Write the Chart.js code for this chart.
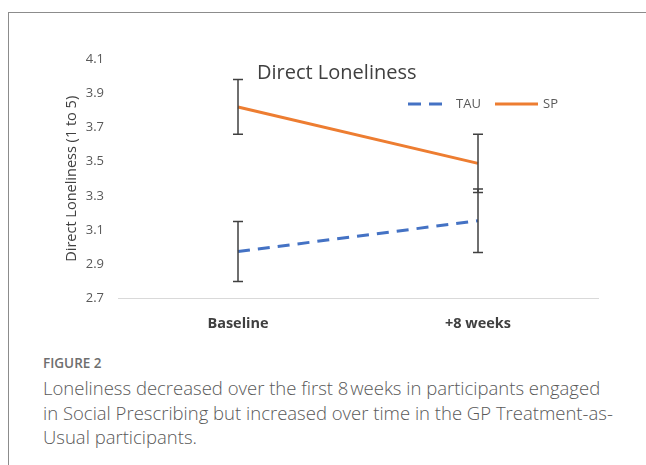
<!DOCTYPE html>
<html>
<head>
<meta charset="utf-8">
<script src="https://cdn.jsdelivr.net/npm/chart.js@4"></script>
<style>
    html, body { margin: 0; padding: 0; background: #fff; }
    body { width: 646px; height: 465px; position: relative; overflow: hidden; }
    .frame { position: absolute; left: 8px; top: 12px; right: -2px; bottom: -2px; border-top: 1px solid #8c8c8c; border-left: 1px solid #8c8c8c; }
    #wrap { position: absolute; left: 0; top: 0; width: 646px; height: 342px; }
    .fig { position: absolute; left: 43px; top: 353px; font-family: "Open Sans", sans-serif; font-weight: 600; font-size: 13.5px; line-height: 20px; color: #6e6e6e; }
    .cap { position: absolute; left: 43px; top: 376px; font-family: "Open Sans", sans-serif; font-weight: 300; font-size: 18.5px; line-height: 24.5px; color: #595959; white-space: nowrap; }
</style>
</head>
<body>
<div class="frame"></div>
<div id="wrap"><canvas id="lonelinessChart"></canvas></div>
<div class="fig">FIGURE 2</div>
<div class="cap">Loneliness decreased over the first 8&#8202;weeks in participants engaged<br>in Social Prescribing but increased over time in the GP Treatment-as-<br>Usual participants.</div>
<script>
// data
var categories = ['Baseline', '+8 weeks'];
var tauMeans = [2.975, 3.155];
var tauErrors = [0.175, 0.185];
var spMeans = [3.82, 3.49];
var spErrors = [0.16, 0.17];
var yTicks = [2.7, 2.9, 3.1, 3.3, 3.5, 3.7, 3.9, 4.1];

document.addEventListener('DOMContentLoaded', function() {
    // error bars, title and legend drawn on top of the chart
    var extrasPlugin = {
        id: 'extras',
        afterDatasetsDraw: function(chart) {
            var ctx = chart.ctx;
            var x = chart.scales.x;
            var y = chart.scales.y;
            var area = chart.chartArea;
            ctx.save();
            ctx.strokeStyle = '#404040';
            ctx.lineWidth = 1.5;
            chart.data.datasets.forEach(function(ds) {
                ds.data.forEach(function(v, i) {
                    var px = x.getPixelForValue(i);
                    var top = y.getPixelForValue(v + ds.errors[i]);
                    var bot = y.getPixelForValue(v - ds.errors[i]);
                    ctx.beginPath();
                    ctx.moveTo(px, top); ctx.lineTo(px, bot);
                    ctx.moveTo(px - 5, top); ctx.lineTo(px + 5, top);
                    ctx.moveTo(px - 5, bot); ctx.lineTo(px + 5, bot);
                    ctx.stroke();
                });
            });

            // title
            ctx.fillStyle = '#404040';
            ctx.font = '20px "Open Sans", sans-serif';
            ctx.textBaseline = 'middle';
            ctx.textAlign = 'left';
            ctx.fillText('Direct Loneliness', area.left + 139, area.top + 14);

            // legend
            var ly = area.top + 45;
            var lx = area.left + 290;
            ctx.lineWidth = 3;
            ctx.strokeStyle = '#4472C4';
            ctx.setLineDash([13, 8]);
            ctx.beginPath(); ctx.moveTo(lx, ly); ctx.lineTo(lx + 34, ly); ctx.stroke();
            ctx.setLineDash([]);
            ctx.font = '13px "Open Sans", sans-serif';
            ctx.fillStyle = '#595959';
            ctx.fillText('TAU', lx + 48, ly);
            ctx.strokeStyle = '#ED7D31';
            ctx.beginPath(); ctx.moveTo(lx + 87, ly); ctx.lineTo(lx + 130, ly); ctx.stroke();
            ctx.fillText('SP', lx + 135, ly);
            ctx.restore();
        }
    };

    var ctx = document.getElementById('lonelinessChart').getContext('2d');
    var lonelinessChart = new Chart(ctx, {
        type: 'line',
        data: {
            labels: categories,
            datasets: [{
                label: 'TAU',
                data: tauMeans,
                errors: tauErrors,
                borderColor: '#4472C4',
                backgroundColor: '#4472C4',
                borderWidth: 3,
                borderDash: [12, 8],
                pointRadius: 0,
                tension: 0
            }, {
                label: 'SP',
                data: spMeans,
                errors: spErrors,
                borderColor: '#ED7D31',
                backgroundColor: '#ED7D31',
                borderWidth: 3,
                pointRadius: 0,
                tension: 0
            }]
        },
        options: {
            responsive: true,
            maintainAspectRatio: false,
            animation: false,
            layout: {
                padding: { left: 63, right: 48, top: 59, bottom: 0 }
            },
            plugins: {
                legend: { display: false },
                tooltip: { enabled: false }
            },
            scales: {
                x: {
                    offset: true,
                    grid: { display: false },
                    border: { display: true, color: '#d9d9d9', width: 1 },
                    ticks: {
                        color: '#404040',
                        padding: 9,
                        font: { family: 'Open Sans', size: 14.5, weight: 'bold' }
                    }
                },
                y: {
                    min: yTicks[0],
                    max: yTicks[yTicks.length - 1],
                    afterBuildTicks: function(scale) {
                        scale.ticks = yTicks.map(function(v) { return { value: v }; });
                    },
                    afterFit: function(scale) { scale.width = 55; },
                    grid: { display: false },
                    border: { display: false },
                    ticks: {
                        color: '#595959',
                        padding: 6,
                        font: { family: 'Open Sans', size: 13 },
                        callback: function(v) { return v.toFixed(1); }
                    },
                    title: {
                        display: true,
                        text: 'Direct Loneliness (1 to 5)',
                        color: '#404040',
                        padding: 0,
                        font: { family: 'Open Sans', size: 14.5 }
                    }
                }
            }
        },
        plugins: [extrasPlugin]
    });
});
</script>
</body>
</html>
